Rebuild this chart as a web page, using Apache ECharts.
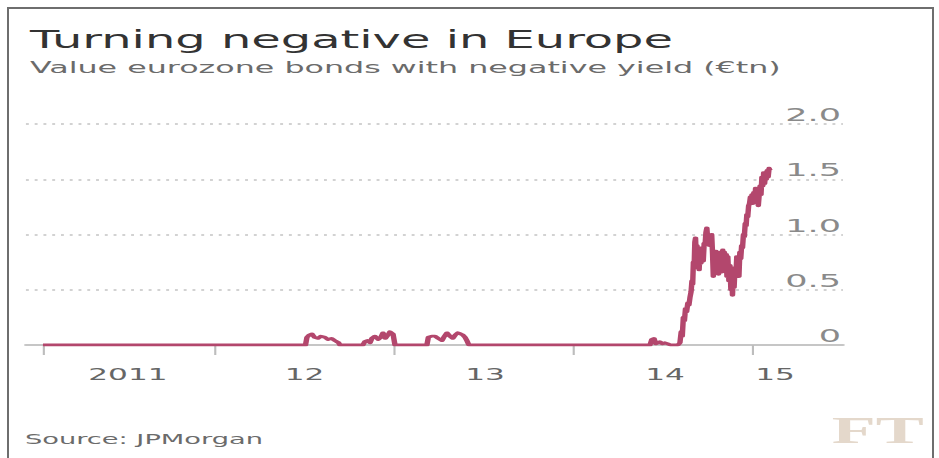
<!DOCTYPE html>
<html>
<head>
<meta charset="utf-8">
<script src="https://cdn.jsdelivr.net/npm/echarts@6/dist/echarts.min.js"></script>
<style>
  html, body { margin: 0; padding: 0; background: #fff; overflow: hidden; }
  #frame {
    position: absolute; left: 7px; top: 7px; width: 927px; height: 470px;
    border: 2px solid #6e6e6e; border-bottom: none; box-sizing: border-box;
  }
  /* the chart is laid out narrow and widened to the page width */
  #chart {
    position: absolute; left: 0; top: 0; width: 482px; height: 458px;
    transform: scaleX(1.948133); transform-origin: 0 0;
  }
</style>
</head>
<body>
<div id="frame"></div>
<div id="chart"></div>
<script>
// Value of eurozone bonds trading at a negative yield, EUR trillion, by decimal year
const years = [
  2011.041, 2011.22, 2012.505,
  2012.513, 2012.525, 2012.541, 2012.555, 2012.574, 2012.59, 2012.613, 2012.63, 2012.65, 2012.669, 2012.69, 2012.697,
  2012.825, 2012.836, 2012.85, 2012.865, 2012.875, 2012.892, 2012.91, 2012.925, 2012.937, 2012.95, 2012.965, 2012.976, 2012.993, 2013.004,
  2013.182, 2013.19, 2013.21, 2013.227, 2013.245, 2013.266, 2013.28, 2013.294, 2013.31, 2013.327, 2013.34, 2013.355, 2013.37, 2013.383, 2013.395, 2013.405, 2013.416,
  2014.426, 2014.436, 2014.448, 2014.459, 2014.47, 2014.481, 2014.495, 2014.509, 2014.526, 2014.54, 2014.582,
  2014.593, 2014.600, 2014.606, 2014.612, 2014.618, 2014.624, 2014.630, 2014.637, 2014.643, 2014.649,
  2014.655, 2014.660, 2014.664, 2014.668, 2014.672, 2014.676, 2014.680, 2014.684, 2014.688, 2014.692,
  2014.696, 2014.700, 2014.705, 2014.710, 2014.714, 2014.718, 2014.723, 2014.728, 2014.733, 2014.738,
  2014.743, 2014.748, 2014.752, 2014.757, 2014.762, 2014.766, 2014.770, 2014.775, 2014.779, 2014.784,
  2014.788, 2014.793, 2014.798, 2014.803, 2014.808, 2014.813, 2014.818, 2014.822, 2014.827, 2014.832,
  2014.836, 2014.841, 2014.846, 2014.851, 2014.855, 2014.860, 2014.866, 2014.872, 2014.877, 2014.882,
  2014.886, 2014.890, 2014.895, 2014.900, 2014.905, 2014.910, 2014.914, 2014.918, 2014.922, 2014.927,
  2014.932, 2014.937, 2014.942, 2014.947, 2014.952, 2014.957, 2014.962, 2014.966, 2014.971, 2014.976,
  2014.981, 2014.986, 2014.990, 2014.995, 2015.000, 2015.005, 2015.010, 2015.015, 2015.020, 2015.025,
  2015.030, 2015.035, 2015.040, 2015.045, 2015.050, 2015.055, 2015.060, 2015.065, 2015.070, 2015.075,
  2015.080, 2015.085, 2015.090, 2015.095
];
const values = [
  0, 0, 0,
  0.07, 0.09, 0.10, 0.07, 0.06, 0.08, 0.07, 0.05, 0.06, 0.04, 0.02, 0,
  0, 0.03, 0.04, 0.02, 0.06, 0.08, 0.05, 0.07, 0.11, 0.06, 0.09, 0.12, 0.10, 0,
  0, 0.07, 0.08, 0.08, 0.06, 0.04, 0.08, 0.11, 0.08, 0.06, 0.09, 0.11, 0.10, 0.09, 0.07, 0.04, 0,
  0, 0.05, 0.06, 0.01, 0.02, 0.03, 0.01, 0.02, 0.01, 0, 0,
  0.02, 0.12, 0.08, 0.25, 0.22, 0.33, 0.30, 0.38, 0.36, 0.43,
  0.48, 0.58, 0.55, 0.75, 0.70, 0.93, 0.97, 0.80, 0.90, 0.70,
  0.78, 0.68, 0.86, 0.74, 0.88, 0.78, 0.76, 0.92, 0.90, 1.02,
  1.06, 0.95, 1.00, 0.90, 0.98, 0.92, 1.00, 0.82, 0.62, 0.78,
  0.65, 0.85, 0.72, 0.80, 0.64, 0.84, 0.70, 0.78, 0.66, 0.86,
  0.74, 0.84, 0.70, 0.82, 0.62, 0.80, 0.58, 0.72, 0.50, 0.62,
  0.45, 0.60, 0.52, 0.70, 0.62, 0.80, 0.66, 0.78, 0.62, 0.84,
  0.78, 0.90, 0.88, 1.00, 0.98, 1.10, 1.08, 1.18, 1.16, 1.26,
  1.28, 1.34, 1.30, 1.36, 1.28, 1.38, 1.32, 1.42, 1.30, 1.42,
  1.26, 1.36, 1.44, 1.36, 1.52, 1.44, 1.56, 1.46, 1.54, 1.50,
  1.58, 1.52, 1.60, 1.58
];

// Axis ticks (year boundaries) and year labels
const xTickPositions = [2011.041, 2012, 2013, 2014, 2015];
const xLabelPositions = [2011.515, 2012.5, 2013.506, 2014.51, 2015.123];
const xLabelTexts = ['2011', '12', '13', '14', '15'];
const yTickLabels = ['0', '0.5', '1.0', '1.5', '2.0'];

const titleText = 'Turning negative in Europe';
const subtitleText = 'Value eurozone bonds with negative yield (€tn)';
const sourceText = 'Source: JPMorgan';

const FONT = '"DejaVu Sans", sans-serif';
const LINE_COLOUR = '#b3476d';

const chart = echarts.init(document.getElementById('chart'), null, { renderer: 'svg' });

chart.setOption({
  animation: false,
  backgroundColor: 'transparent',
  grid: { left: 13.3, right: 49.3, top: 124, bottom: 113, containLabel: false },
  xAxis: {
    type: 'value',
    min: 2010.946,
    max: 2015.502,
    axisLine: { show: true, lineStyle: { color: '#c6c6c6', width: 2 } },
    axisTick: {
      show: true, customValues: xTickPositions, length: 10,
      lineStyle: { color: '#bdbdbd', width: 1.1 }
    },
    axisLabel: {
      customValues: xLabelPositions,
      margin: 22,
      color: '#666',
      fontFamily: FONT,
      fontSize: 16,
      formatter: function (v) {
        let best = 0;
        xLabelPositions.forEach(function (p, i) {
          if (Math.abs(p - v) < Math.abs(xLabelPositions[best] - v)) best = i;
        });
        return xLabelTexts[best];
      }
    },
    splitLine: { show: false }
  },
  yAxis: {
    type: 'value',
    position: 'right',
    min: 0,
    max: 2,
    interval: 0.5,
    axisLine: { show: false },
    axisTick: { show: false },
    axisLabel: {
      inside: true,
      margin: 1,
      align: 'right',
      verticalAlign: 'bottom',
      color: '#8a8a8a',
      fontFamily: FONT,
      fontSize: 18,
      formatter: function (v) { return yTickLabels[Math.round(v / 0.5)]; }
    },
    splitLine: {
      show: true,
      lineStyle: { color: '#c4c4c4', width: 1.5, type: [1.5, 3] }
    }
  },
  series: [{
    type: 'line',
    data: years.map(function (y, i) { return [y, values[i]]; }),
    showSymbol: false,
    symbol: 'none',
    lineStyle: { color: LINE_COLOUR, width: 2.8, join: 'round' },
    z: 5
  }],
  graphic: [
    {
      type: 'text', style: {
        text: titleText, font: '24.6px ' + FONT, fill: '#333'
      }, position: [15.4, 27]
    },
    {
      type: 'text', style: {
        text: subtitleText, font: '16.3px ' + FONT, fill: '#6b6b6b'
      }, position: [15.4, 60]
    },
    {
      type: 'text', style: {
        text: sourceText, font: '14px ' + FONT, fill: '#6b6b6b'
      }, position: [12.8, 432]
    },
    {
      type: 'text', style: {
        text: 'FT', font: 'bold 37px "Liberation Serif", serif', fill: '#e4d8cb'
      }, position: [427, 412]
    }
  ]
});
</script>
</body>
</html>
